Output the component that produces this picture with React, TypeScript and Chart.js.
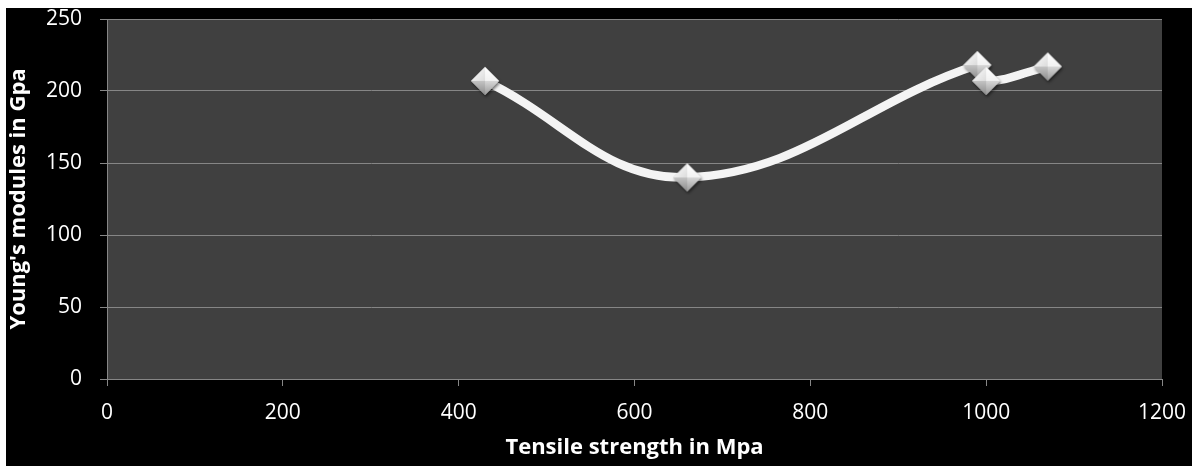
import React, { useEffect, useRef } from "react";
import { Chart, registerables } from "chart.js";

Chart.register(...registerables);

const tensileMpa = [430, 660, 990, 1000, 1070];
const youngsGpa = [207, 140, 218, 207, 217];
const xTitle = "Tensile strength in Mpa";
const yTitle = "Young's modules in Gpa";

function makeDiamond(): HTMLCanvasElement {
  const s = 36;
  const c = document.createElement("canvas");
  c.width = s;
  c.height = s;
  const ctx = c.getContext("2d")!;
  const cx = s / 2, cy = s / 2, r = 14;
  ctx.save();
  ctx.shadowColor = "rgba(0,0,0,0.55)";
  ctx.shadowBlur = 3;
  ctx.shadowOffsetX = 1;
  ctx.shadowOffsetY = 2;
  ctx.beginPath();
  ctx.moveTo(cx, cy - r);
  ctx.lineTo(cx + r, cy);
  ctx.lineTo(cx, cy + r);
  ctx.lineTo(cx - r, cy);
  ctx.closePath();
  ctx.fillStyle = "#d0d0d0";
  ctx.fill();
  ctx.restore();
  let g = ctx.createLinearGradient(cx - r, cy - r, cx, cy);
  g.addColorStop(0, "#ffffff");
  g.addColorStop(1, "#dcdcdc");
  ctx.beginPath();
  ctx.moveTo(cx - r, cy); ctx.lineTo(cx, cy - r); ctx.lineTo(cx, cy); ctx.closePath();
  ctx.fillStyle = g; ctx.fill();
  g = ctx.createLinearGradient(cx, cy - r, cx, cy);
  g.addColorStop(0, "#ffffff");
  g.addColorStop(1, "#f2f2f2");
  ctx.beginPath();
  ctx.moveTo(cx, cy - r); ctx.lineTo(cx + r, cy); ctx.lineTo(cx, cy); ctx.closePath();
  ctx.fillStyle = g; ctx.fill();
  g = ctx.createLinearGradient(cx, cy, cx, cy + r);
  g.addColorStop(0, "#d8d8d8");
  g.addColorStop(1, "#9a9a9a");
  ctx.beginPath();
  ctx.moveTo(cx + r, cy); ctx.lineTo(cx, cy + r); ctx.lineTo(cx, cy); ctx.closePath();
  ctx.fillStyle = g; ctx.fill();
  g = ctx.createLinearGradient(cx, cy, cx, cy + r);
  g.addColorStop(0, "#c4c4c4");
  g.addColorStop(1, "#8c8c8c");
  ctx.beginPath();
  ctx.moveTo(cx - r, cy); ctx.lineTo(cx, cy + r); ctx.lineTo(cx, cy); ctx.closePath();
  ctx.fillStyle = g; ctx.fill();
  return c;
}

const plotBg = {
  id: "plotBg",
  beforeDraw(chart: any) {
    const { ctx, chartArea } = chart;
    ctx.save();
    ctx.fillStyle = "#404040";
    ctx.fillRect(chartArea.left, chartArea.top, chartArea.right - chartArea.left, chartArea.bottom - chartArea.top);
    ctx.restore();
  },
};

const noPad = (s: any) => {
  s.paddingTop = 0;
  s.paddingBottom = 0;
  s.paddingLeft = 0;
  s.paddingRight = 0;
};

export default function App() {
  const ref = useRef<HTMLCanvasElement>(null);
  useEffect(() => {
    const diamond = makeDiamond();
    const gridColor = "#868686";
    const chart = new Chart(ref.current!, {
      type: "line",
      data: {
        datasets: [
          {
            data: tensileMpa.map((x, i) => ({ x, y: youngsGpa[i] })),
            borderColor: "#f4f4f4",
            borderWidth: 8.5,
            tension: 0.4,
            pointStyle: diamond as any,
            pointRadius: 14,
            fill: false,
          },
        ],
      },
      options: {
        animation: false,
        responsive: false,
        events: [],
        layout: { autoPadding: false, padding: { top: 11, right: 30, left: 0, bottom: 0 } },
        plugins: { legend: { display: false }, tooltip: { enabled: false } },
        scales: {
          x: {
            type: "linear",
            min: 0,
            max: 1200,
            afterFit: (s: any) => { s.height = 87; noPad(s); },
            ticks: {
              stepSize: 200,
              color: "#ffffff",
              padding: 14,
              font: { family: "'Open Sans'", size: 21 },
              callback: (v: any) => String(v),
            },
            grid: { drawOnChartArea: false, drawTicks: true, tickLength: 7, color: gridColor },
            border: { color: gridColor },
            title: {
              display: true,
              text: xTitle,
              color: "#ffffff",
              font: { family: "'Open Sans'", size: 22, weight: "bold" },
              padding: { top: 0, bottom: 5 },
            },
          },
          y: {
            min: 0,
            max: 250,
            afterFit: (s: any) => { s.width = 101; noPad(s); },
            ticks: {
              stepSize: 50,
              color: "#ffffff",
              padding: 18,
              font: { family: "'Open Sans'", size: 21 },
              callback: (v: any) => String(v),
            },
            grid: { color: gridColor, tickLength: 7 },
            border: { color: gridColor },
            title: {
              display: true,
              text: yTitle,
              color: "#ffffff",
              font: { family: "'Open Sans'", size: 22, weight: "bold" },
              padding: { top: 0, bottom: 0 },
            },
          },
        },
      },
      plugins: [plotBg],
    });
    return () => chart.destroy();
  }, []);
  return (
    <div style={{ position: "absolute", left: 6, top: 8, width: 1186, height: 458, background: "#000" }}>
      <canvas ref={ref} width={1186} height={458} style={{ display: "block" }} />
    </div>
  );
}
